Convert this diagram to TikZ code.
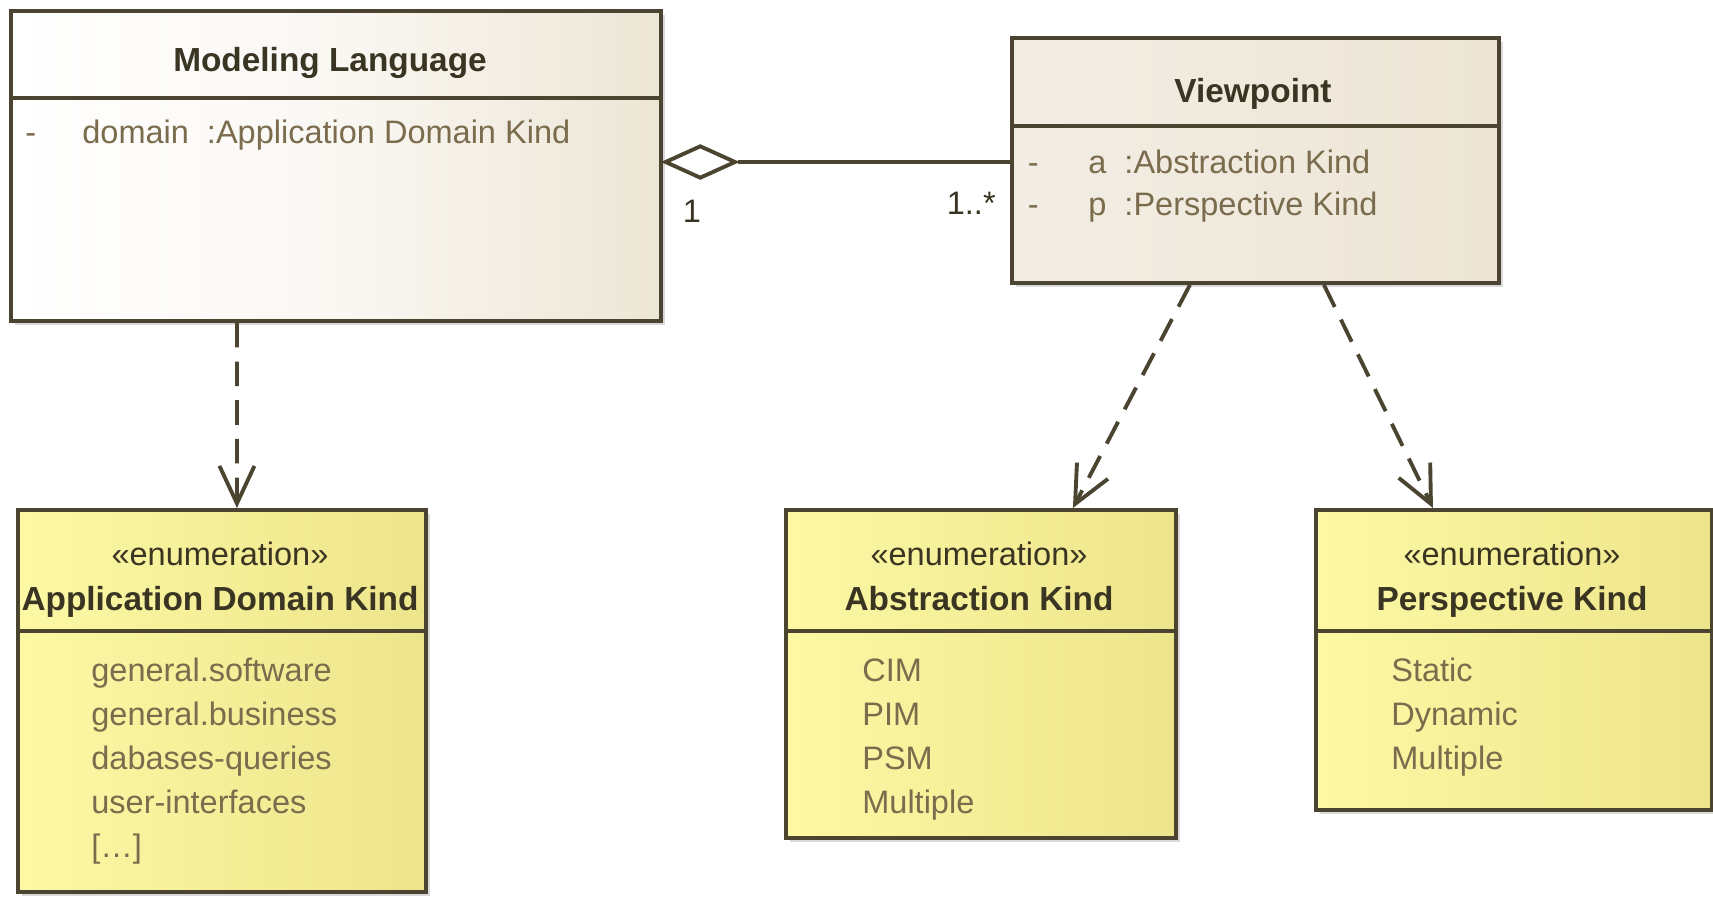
\documentclass[tikz,border=0pt]{standalone}
\usepackage{fontspec}
\setmainfont{Liberation Sans}
\usetikzlibrary{arrows.meta,positioning,calc,shapes.geometric,shadows}
\definecolor{umlline}{HTML}{4A4430}
\definecolor{umltext}{HTML}{3A3422}
\definecolor{umlattr}{HTML}{7A6C4C}
\definecolor{enumL}{HTML}{FCF8A4}
\definecolor{enumR}{HTML}{EDE58C}
\definecolor{classR}{HTML}{EDE6D6}
\definecolor{vpL}{HTML}{F2EDE4}

\begin{document}
\begin{tikzpicture}[
  umlbox/.style={draw=umlline,line width=2.2pt,inner sep=0pt,anchor=north west,
    drop shadow={shadow xshift=2.5pt,shadow yshift=-2.5pt,opacity=0.3,fill=black!50}},
  classbox/.style={umlbox,left color=white,right color=classR},
  enumbox/.style={umlbox,left color=enumL,right color=enumR},
  divider/.style={draw=umlline,line width=2.2pt},
  titletext/.style={font=\fontsize{19}{23}\selectfont\bfseries,text=umltext,inner sep=0pt,anchor=base},
  stereo/.style={font=\fontsize{18.5}{23}\selectfont,text=umltext,inner sep=0pt,anchor=base},
  itemtext/.style={font=\fontsize{18.5}{23}\selectfont,text=umlattr,inner sep=0pt,anchor=base west},
  multtext/.style={font=\fontsize{18.5}{23}\selectfont,text=umltext,inner sep=0pt},
  depend/.style={draw=umlline,line width=2.2pt,dash pattern=on 14pt off 8pt,
    -{Straight Barb[length=7.5mm,width=7mm,line width=2.2pt]}},
]
  \useasboundingbox (0,0) rectangle (34.26,-18.02);

  % Modeling Language class
  \node[classbox,middle color=white!70!classR,minimum width=13cm,minimum height=6.2cm] (ml) at (0.18,-0.18) {};
  \draw[divider] ([yshift=-1.78cm]ml.north west) -- ([yshift=-1.78cm]ml.north east);
  \node[titletext] (mltitle) at (6.6,-1.43) {Modeling Language};
  \node[itemtext] (mldash) at (0.5,-2.88) {-};
  \node[itemtext] (mlattr) at (1.64,-2.88) {domain~~:Application Domain Kind};

  % Viewpoint class
  \node[classbox,left color=vpL,right color=classR,minimum width=9.74cm,minimum height=4.9cm] (vp) at (20.2,-0.72) {};
  \draw[divider] ([yshift=-1.8cm]vp.north west) -- ([yshift=-1.8cm]vp.north east);
  \node[titletext] (vptitle) at (25.06,-2.05) {Viewpoint};
  \node[itemtext] (vpdasha) at (20.55,-3.48) {-};
  \node[itemtext] (vpattra) at (21.76,-3.48) {a~~:Abstraction Kind};
  \node[itemtext] (vpdashp) at (20.55,-4.32) {-};
  \node[itemtext] (vpattrp) at (21.76,-4.32) {p~~:Perspective Kind};

  % Aggregation
  \node[diamond,draw=umlline,fill=white,line width=2.2pt,minimum width=1.42cm,minimum height=0.66cm,
    inner sep=0pt,anchor=west] (agg) at (ml.east |- 0,-3.24) {};
  \draw[divider] (agg.east) -- (agg.east -| vp.west);
  \node[multtext,anchor=base] (mlmult) at (13.84,-4.45) {1};
  \node[multtext,anchor=base east] (vpmult) at (19.92,-4.29) {1..*};

  % Application Domain Kind
  \node[enumbox,minimum width=8.16cm,minimum height=7.64cm] (app) at (0.32,-10.16) {};
  \draw[divider] ([yshift=-2.46cm]app.north west) -- ([yshift=-2.46cm]app.north east);
  \node[stereo] (appstereo) at (4.4,-11.3) {«enumeration»};
  \node[titletext] (apptitle) at (4.4,-12.21) {Application Domain Kind};
  \foreach \txt [count=\i from 0] in {general.software,general.business,dabases-queries,user-interfaces,{[\ldots]}}
    \node[itemtext] (app-\i) at (1.82,{-13.62-0.88*\i}) {\txt};

  % Abstraction Kind
  \node[enumbox,minimum width=7.8cm,minimum height=6.56cm] (abs) at (15.68,-10.16) {};
  \draw[divider] ([yshift=-2.46cm]abs.north west) -- ([yshift=-2.46cm]abs.north east);
  \node[stereo] (absstereo) at (19.58,-11.3) {«enumeration»};
  \node[titletext] (abstitle) at (19.58,-12.21) {Abstraction Kind};
  \foreach \txt [count=\i from 0] in {CIM,PIM,PSM,Multiple}
    \node[itemtext] (abs-\i) at (17.24,{-13.62-0.88*\i}) {\txt};

  % Perspective Kind
  \node[enumbox,minimum width=7.92cm,minimum height=6cm] (per) at (26.28,-10.16) {};
  \draw[divider] ([yshift=-2.46cm]per.north west) -- ([yshift=-2.46cm]per.north east);
  \node[stereo] (perstereo) at (30.24,-11.3) {«enumeration»};
  \node[titletext] (pertitle) at (30.24,-12.21) {Perspective Kind};
  \foreach \txt [count=\i from 0] in {Static,Dynamic,Multiple}
    \node[itemtext] (per-\i) at (27.82,{-13.62-0.88*\i}) {\txt};

  % Dependencies
  \draw[depend] ([xshift=-1.98cm]ml.south) -- ([xshift=0.3cm]app.north);
  \draw[depend] ([xshift=-1.31cm]vp.south) -- ([xshift=1.84cm]abs.north);
  \draw[depend] ([xshift=1.37cm]vp.south) -- ([xshift=-1.62cm]per.north);
\end{tikzpicture}
\end{document}
